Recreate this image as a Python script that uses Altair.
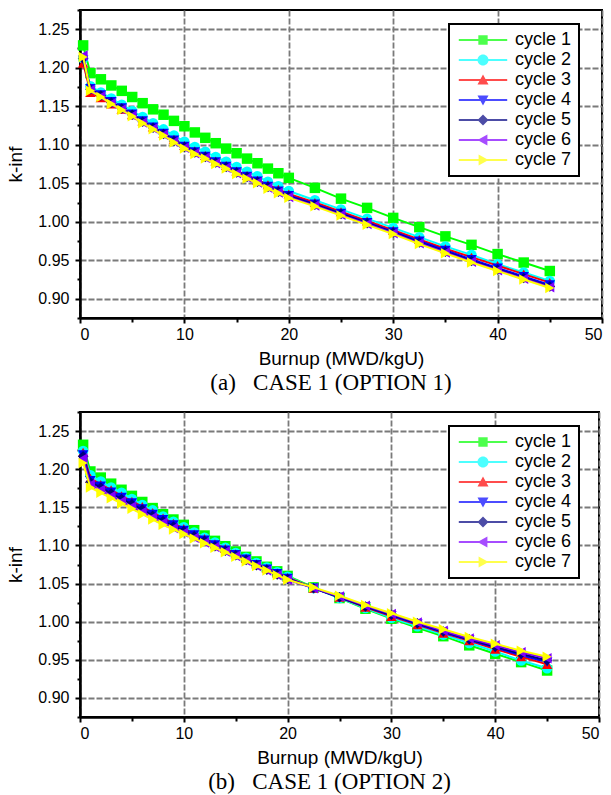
import altair as alt
import pandas as pd

# ---------------- data ----------------
burnup = [0.3, 1, 2, 3, 4, 5, 6, 7, 8, 9, 10, 11, 12, 13, 14, 15, 16, 17, 18, 19, 20,
          22.5, 25, 27.5, 30, 32.5, 35, 37.5, 40, 42.5, 45]

cycles = ["cycle 1", "cycle 2", "cycle 3", "cycle 4", "cycle 5", "cycle 6", "cycle 7"]
colors = ["#00ff00", "#00ffff", "#ff0000", "#0000ff", "#000080", "#8000ff", "#ffff00"]
shapes = ["square", "circle", "triangle-up", "triangle-down", "diamond", "triangle-left", "triangle-right"]

# (a) CASE 1 (OPTION 1)
opt1_c1 = [1.229, 1.193, 1.185, 1.177, 1.170, 1.162, 1.154, 1.146, 1.139, 1.131, 1.124, 1.116, 1.109, 1.102, 1.095, 1.089, 1.082, 1.076, 1.069, 1.063, 1.057,
           1.044, 1.030, 1.018, 1.005, 0.993, 0.981, 0.970, 0.958, 0.947, 0.936]
opt1_c2 = [1.212, 1.176, 1.168, 1.160, 1.152, 1.144, 1.136, 1.128, 1.120, 1.112, 1.104, 1.097, 1.091, 1.084, 1.078, 1.071, 1.065, 1.059, 1.052, 1.046, 1.040,
           1.028, 1.016, 1.004, 0.992, 0.980, 0.968, 0.957, 0.945, 0.934, 0.923]
opt1_c3 = [1.206, 1.168, 1.161, 1.153, 1.146, 1.139, 1.131, 1.123, 1.115, 1.107, 1.099, 1.092, 1.086, 1.079, 1.073, 1.066, 1.060, 1.054, 1.048, 1.042, 1.036,
           1.025, 1.013, 1.001, 0.989, 0.977, 0.965, 0.954, 0.943, 0.932, 0.921]
opt1_c4 = [1.210, 1.173, 1.165, 1.156, 1.148, 1.140, 1.131, 1.123, 1.115, 1.106, 1.098, 1.091, 1.085, 1.078, 1.072, 1.065, 1.059, 1.053, 1.046, 1.040, 1.034,
           1.023, 1.011, 0.999, 0.987, 0.975, 0.963, 0.951, 0.940, 0.929, 0.918]
opt1_c5 = [1.212, 1.172, 1.164, 1.155, 1.147, 1.139, 1.130, 1.122, 1.114, 1.105, 1.097, 1.090, 1.084, 1.077, 1.071, 1.064, 1.058, 1.052, 1.045, 1.039, 1.033,
           1.022, 1.010, 0.998, 0.986, 0.973, 0.961, 0.949, 0.938, 0.927, 0.916]
opt1_c6 = [1.216, 1.171, 1.163, 1.154, 1.146, 1.138, 1.129, 1.121, 1.113, 1.104, 1.096, 1.089, 1.083, 1.076, 1.070, 1.063, 1.057, 1.051, 1.044, 1.038, 1.032,
           1.021, 1.009, 0.997, 0.985, 0.972, 0.960, 0.948, 0.937, 0.926, 0.915]
opt1_c7 = [1.214, 1.170, 1.162, 1.153, 1.145, 1.137, 1.128, 1.120, 1.112, 1.103, 1.095, 1.088, 1.082, 1.075, 1.069, 1.062, 1.056, 1.050, 1.043, 1.037, 1.031,
           1.020, 1.008, 0.996, 0.984, 0.971, 0.959, 0.947, 0.936, 0.925, 0.914]

# (b) CASE 1 (OPTION 2)
opt2_c1 = [1.232, 1.197, 1.189, 1.181, 1.173, 1.165, 1.157, 1.149, 1.141, 1.134, 1.127, 1.120, 1.113, 1.106, 1.099, 1.092, 1.085, 1.079, 1.072, 1.066, 1.060,
           1.045, 1.031, 1.017, 1.004, 0.992, 0.981, 0.969, 0.958, 0.947, 0.936]
opt2_c2 = [1.224, 1.192, 1.184, 1.176, 1.169, 1.161, 1.153, 1.146, 1.138, 1.131, 1.124, 1.117, 1.110, 1.104, 1.097, 1.090, 1.084, 1.077, 1.071, 1.065, 1.059,
           1.044, 1.031, 1.018, 1.005, 0.994, 0.983, 0.972, 0.961, 0.949, 0.939]
opt2_c3 = [1.222, 1.188, 1.180, 1.173, 1.165, 1.158, 1.151, 1.143, 1.136, 1.129, 1.122, 1.115, 1.109, 1.102, 1.096, 1.089, 1.083, 1.076, 1.070, 1.064, 1.058,
           1.044, 1.032, 1.019, 1.007, 0.996, 0.985, 0.975, 0.964, 0.954, 0.944]
opt2_c4 = [1.219, 1.185, 1.178, 1.170, 1.163, 1.156, 1.148, 1.141, 1.134, 1.127, 1.120, 1.114, 1.107, 1.101, 1.094, 1.088, 1.082, 1.075, 1.069, 1.063, 1.057,
           1.044, 1.032, 1.020, 1.008, 0.997, 0.986, 0.976, 0.966, 0.956, 0.947]
opt2_c5 = [1.217, 1.183, 1.176, 1.168, 1.161, 1.154, 1.147, 1.139, 1.132, 1.125, 1.119, 1.112, 1.106, 1.099, 1.093, 1.087, 1.081, 1.074, 1.068, 1.062, 1.056,
           1.044, 1.032, 1.020, 1.009, 0.998, 0.987, 0.977, 0.967, 0.958, 0.949]
opt2_c6 = [1.214, 1.180, 1.173, 1.165, 1.158, 1.151, 1.144, 1.137, 1.130, 1.123, 1.117, 1.110, 1.104, 1.098, 1.092, 1.086, 1.080, 1.073, 1.067, 1.061, 1.055,
           1.044, 1.033, 1.021, 1.010, 0.999, 0.988, 0.978, 0.969, 0.960, 0.952]
opt2_c7 = [1.208, 1.176, 1.169, 1.162, 1.155, 1.148, 1.141, 1.134, 1.127, 1.121, 1.115, 1.109, 1.103, 1.097, 1.091, 1.085, 1.079, 1.073, 1.067, 1.061, 1.055,
           1.045, 1.034, 1.022, 1.011, 1.000, 0.990, 0.980, 0.971, 0.962, 0.954]

x_ticks = [0, 5, 10, 15, 20, 25, 30, 35, 40, 45, 50]
y_ticks = [0.875, 0.9, 0.925, 0.95, 0.975, 1.0, 1.025, 1.05, 1.075, 1.1, 1.125,
           1.15, 1.175, 1.2, 1.225, 1.25, 1.275]

captions = ["(a)\u00a0\u00a0\u00a0CASE 1 (OPTION 1)", "(b)\u00a0\u00a0\u00a0CASE 1 (OPTION 2)"]

# legend symbols: a line segment with the marker on it (custom SVG paths)
LINE = "M-4.4,-0.18H4.4V0.18H-4.4Z "
legend_paths = [
    LINE + "M-0.85,-0.85H0.85V0.85H-0.85Z",
    LINE + "M1,0A1,1 0 1,1 -1,0A1,1 0 1,1 1,0Z",
    LINE + "M0,-1L1,0.8L-1,0.8Z",
    LINE + "M0,1L-1,-0.8L1,-0.8Z",
    LINE + "M0,-1L1,0L0,1L-1,0Z",
    LINE + "M-1,0L0.8,-1L0.8,1Z",
    LINE + "M1,0L-0.8,1L-0.8,-1Z",
]


def make_df(series):
    rows = []
    for cyc, vals in zip(cycles, series):
        for b, k in zip(burnup, vals):
            rows.append({"burnup": b, "kinf": k, "cycle": cyc})
    return pd.DataFrame(rows)


major_y = "abs(datum.value*20 - round(datum.value*20)) < 0.001"
major_x = "datum.value % 10 == 0"


def panel(series, caption, w, h):
    df = make_df(series)
    X = alt.X("burnup:Q",
              scale=alt.Scale(domain=[0, 50], nice=False, zero=False),
              axis=alt.Axis(values=x_ticks, title="Burnup (MWD/kgU)",
                            labelExpr=f"{major_x} ? datum.label : ''",
                            gridOpacity={"condition": {"test": major_x, "value": 1}, "value": 0},
                            tickSize={"condition": {"test": major_x, "value": 5}, "value": 4},
                            labelPadding=3, titlePadding=7))
    Y = alt.Y("kinf:Q",
              scale=alt.Scale(domain=[0.875, 1.275], nice=False, zero=False),
              axis=alt.Axis(values=y_ticks, title="k-inf", format=".2f",
                            labelExpr=f"{major_y} ? format(datum.value, '.2f') : ''",
                            gridOpacity={"condition": {"test": major_y, "value": 1}, "value": 0},
                            tickSize={"condition": {"test": major_y, "value": 5}, "value": 3},
                            labelPadding=6, titlePadding=12))
    base = alt.Chart(df)
    layers = []
    for i, cyc in enumerate(cycles):
        sub = base.transform_filter(alt.datum.cycle == cyc)
        layers.append(sub.mark_line(color=colors[i], strokeWidth=2).encode(x=X, y=Y))
        layers.append(sub.mark_point(shape=shapes[i], filled=True, size=110, color=colors[i],
                                     opacity=1).encode(x=X, y=Y))
    leg = alt.Legend(title=None, orient="none", legendX=369, legendY=14,
                     fillColor="white", strokeColor="black", padding=7,
                     labelFont="Liberation Sans", labelFontSize=18, labelColor="black",
                     labelExpr="datum.label + ' '",
                     symbolSize=121, symbolOffset=18, labelOffset=23, rowPadding=2,
                     symbolStrokeWidth=0)
    # legend-only layer: no rows pass the filter, the legend comes from the fixed scale domains
    legend_layer = base.transform_filter("datum.kinf < 0").mark_point(filled=True).encode(
        x=X, y=Y,
        color=alt.Color("cycle:N", scale=alt.Scale(domain=cycles, range=colors), legend=leg),
        shape=alt.Shape("cycle:N", scale=alt.Scale(domain=cycles, range=legend_paths), legend=leg),
    )
    layers.append(legend_layer)
    return alt.layer(*layers).properties(
        width=w, height=h,
        title=alt.TitleParams(text=caption, orient="bottom", anchor="middle",
                              font="Liberation Serif", fontSize=23, fontWeight="normal",
                              color="black", offset=4, dx=-10),
    )


top = panel([opt1_c1, opt1_c2, opt1_c3, opt1_c4, opt1_c5, opt1_c6, opt1_c7], captions[0], 522, 308)
bottom = panel([opt2_c1, opt2_c2, opt2_c3, opt2_c4, opt2_c5, opt2_c6, opt2_c7], captions[1], 519, 305)

chart = alt.vconcat(top, bottom, spacing=14).resolve_scale(
    color="independent", shape="independent"
).resolve_legend(color="independent", shape="independent").properties(
    padding={"left": 5, "top": 8, "right": 2, "bottom": 0}
).configure_view(
    stroke="black", strokeWidth=2
).configure_axis(
    domainColor="black", domainWidth=2.5, tickColor="black", tickWidth=2,
    labelFont="Liberation Sans", labelFontSize=16, labelColor="black",
    titleFont="Liberation Sans", titleFontSize=19, titleFontWeight="normal", titleColor="black",
    gridColor="#7a7a7a", gridDash=[6, 2], gridWidth=1.8,
).configure_legend(
    strokeWidth=2, cornerRadius=0
)

chart.save("out.html", embed_options={"renderer": "svg", "actions": False})
